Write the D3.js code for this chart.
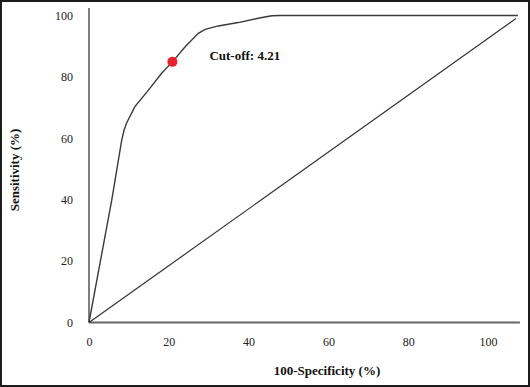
<!DOCTYPE html>
<meta charset="utf-8">
<style>
  body { margin: 0; background: #fff; }
  svg { display: block; }
  .tick text { font-family: "Liberation Serif", "Times New Roman", serif; font-size: 12px; fill: #222; }
  .axis path { stroke: none; }
  .label { font-family: "Liberation Serif", "Times New Roman", serif; font-size: 13px; font-weight: bold; fill: #111; }
</style>
<script src="https://d3js.org/d3.v7.min.js"></script>
<body>
<div id="chart"></div>
<script>

  // ROC curve: 100-specificity (%) vs sensitivity (%)
  var rocX = [0, 5.7, 8.2, 8.8, 9.4, 11.5, 14.9, 18.2, 20.9, 24.1, 27.4, 29.1, 32.4, 37.4, 42.4, 45.8, 47.9, 107.5]
  var rocY = [0, 39.9, 59.4, 62.7, 64.9, 70.3, 75.7, 81.2, 84.9, 89.8, 94.2, 95.5, 96.6, 97.7, 99.1, 99.9, 100, 100]

  // reference diagonal
  var diagX = [0, 107]
  var diagY = [0, 99]

  // cut-off point
  var cutX = [20.9]
  var cutY = [84.9]
  var cutText = "Cut-off: 4.21"

  var xTicks = [0, 20, 40, 60, 80, 100]
  var yTicks = [0, 20, 40, 60, 80, 100]

  var W = 530, H = 387
  var margin = {top: 15.5, right: 10, bottom: 64.5, left: 89}

  var svg = d3.select("#chart")
    .append("svg")
      .attr("width", W)
      .attr("height", H)

  // dark frame round the figure
  svg.append("rect")
    .attr("x", 1).attr("y", 1)
    .attr("width", W - 2).attr("height", H - 2)
    .attr("fill", "#fff")
    .attr("stroke", "#1c1c1c")
    .attr("stroke-width", 2)

  var x = d3.scaleLinear()
    .domain([0, 108])
    .range([margin.left, margin.left + 108 * 3.99])

  var y = d3.scaleLinear()
    .domain([0, 100])
    .range([322.5, margin.top])

  // axis lines
  svg.append("line")
    .attr("x1", x(0)).attr("x2", x(0))
    .attr("y1", y(0)).attr("y2", 8)
    .attr("stroke", "#555").attr("stroke-width", 1.5)

  svg.append("line")
    .attr("x1", x(0)).attr("x2", x(108))
    .attr("y1", y(0)).attr("y2", y(0))
    .attr("stroke", "#666").attr("stroke-width", 2)

  svg.append("g")
    .attr("class", "axis")
    .attr("transform", "translate(" + x(0) + ",0)")
    .call(d3.axisLeft(y).tickValues(yTicks).tickSize(0).tickPadding(16))

  svg.append("g")
    .attr("class", "axis")
    .attr("transform", "translate(0," + y(0) + ")")
    .call(d3.axisBottom(x).tickValues(xTicks).tickSize(0).tickPadding(15))

  var line = d3.line()
    .x(function(d) { return x(d[0]) })
    .y(function(d) { return y(d[1]) })

  svg.append("path")
    .datum(diagX.map(function(v, i) { return [v, diagY[i]] }))
    .attr("d", line)
    .attr("fill", "none")
    .attr("stroke", "#333")
    .attr("stroke-width", 1.2)

  svg.append("path")
    .datum(rocX.map(function(v, i) { return [v, rocY[i]] }))
    .attr("d", line)
    .attr("fill", "none")
    .attr("stroke", "#3a3a3a")
    .attr("stroke-width", 1.4)

  svg.selectAll(".cut")
    .data(cutX)
    .enter().append("circle")
      .attr("class", "cut")
      .attr("cx", function(d) { return x(d) })
      .attr("cy", function(d, i) { return y(cutY[i]) })
      .attr("r", 5)
      .attr("fill", "#e8222c")

  svg.append("text")
    .attr("class", "label")
    .attr("x", x(cutX[0]) + 37)
    .attr("y", y(cutY[0]) - 6)
    .attr("dy", "0.35em")
    .text(cutText)

  svg.append("text")
    .attr("class", "label")
    .attr("transform", "translate(19," + 170 + ") rotate(-90)")
    .attr("text-anchor", "middle")
    .text("Sensitivity (%)")

  svg.append("text")
    .attr("class", "label")
    .attr("x", 327)
    .attr("y", 375)
    .attr("text-anchor", "middle")
    .text("100-Specificity (%)")

</script>
